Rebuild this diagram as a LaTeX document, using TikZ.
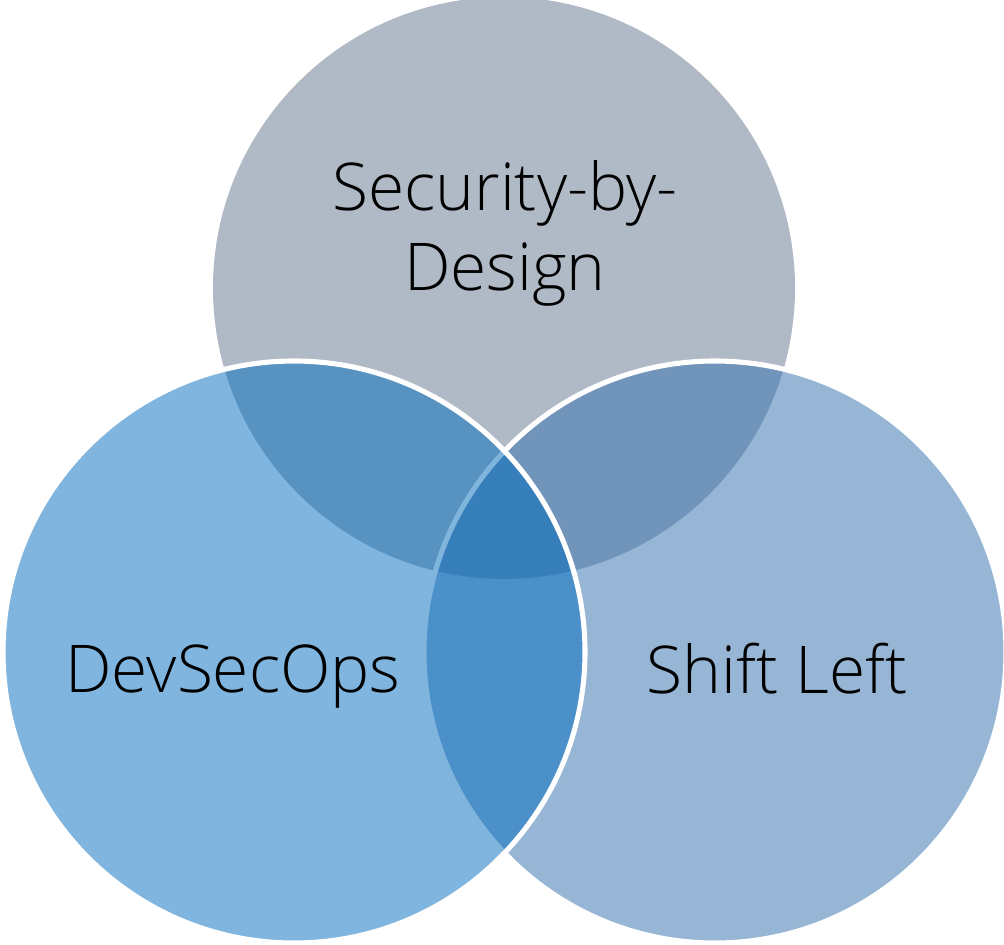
\documentclass[tikz,border=0pt]{standalone}
\usepackage{fontspec}
\IfFontExistsTF{Open Sans Light}{\setmainfont{Open Sans Light}}{\setmainfont{Open Sans}}
\definecolor{topc}{RGB}{176,186,198}
\definecolor{rightc}{RGB}{55,115,176}
\definecolor{leftc}{RGB}{0,107,189}
\tikzset{
  ring/.style={draw=white, line width=2.9pt},
  lbl/.style={font=\fontsize{37.5}{45.4}\selectfont, text=black, inner sep=0pt, align=center, anchor=base}
}
\begin{document}
\begin{tikzpicture}[x=0.02cm,y=-0.02cm]
\useasboundingbox (0,0) rectangle (1004,944);
\fill[topc] (504,288) circle (291);
\path[ring, fill=rightc, fill opacity=0.52] (715,652) circle (291);
\path[ring, fill=leftc, fill opacity=0.5] (294,652) circle (291);
\node[lbl] (sbd) at (505,290) {Security-by-\\Design};
\node[lbl] (dso) at (233,692) {DevSecOps};
\node[lbl] (sl) at (777,693) {Shift Left};
\end{tikzpicture}
\end{document}
